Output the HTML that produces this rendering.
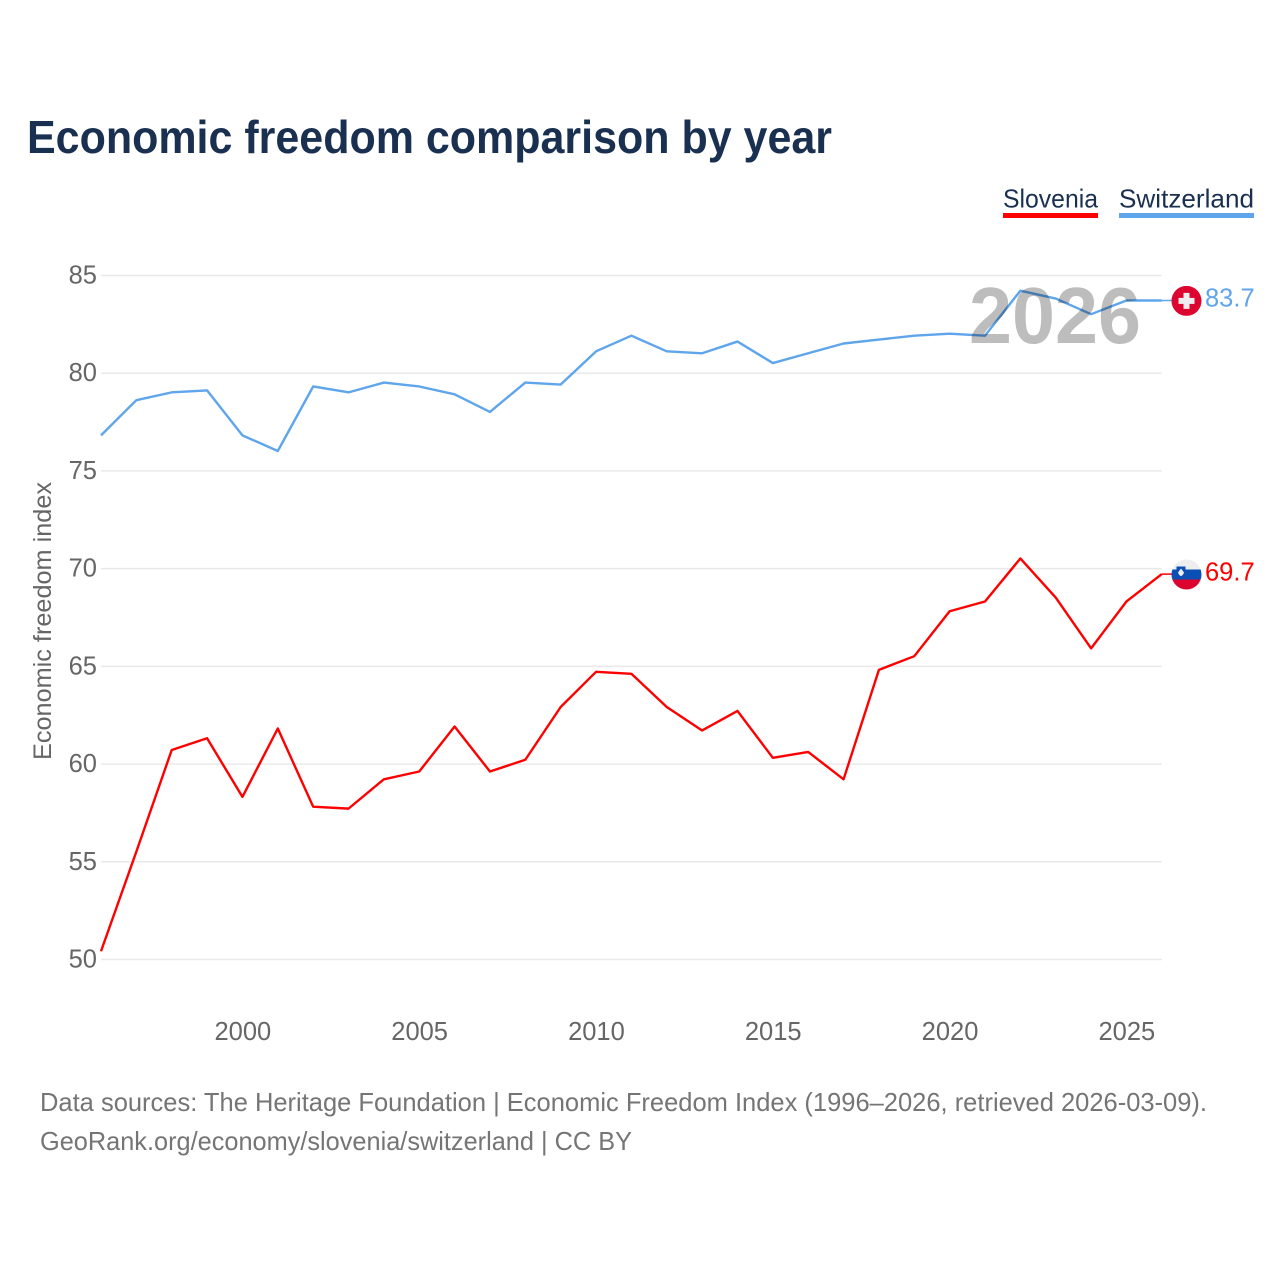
<!DOCTYPE html>
<html lang="en">
<head>
<meta charset="utf-8">
<title>Economic freedom comparison by year</title>
<style>
html,body{margin:0;padding:0;background:#fff}
svg{display:block}
text{font-family:"Liberation Sans",sans-serif}
</style>
</head>
<body>
<svg id="chart" xmlns="http://www.w3.org/2000/svg" width="1280" height="1280" viewBox="0 0 1280 1280">
  <rect x="0" y="0" width="1280" height="1280" fill="#ffffff"/>
  <text x="27" y="153" font-size="46" font-weight="700" fill="#1a3050" textLength="805" lengthAdjust="spacingAndGlyphs">Economic freedom comparison by year</text>

  <g>
    <g>
      <text x="1003" y="207.5" font-size="26" fill="#1a3050" textLength="95" lengthAdjust="spacingAndGlyphs">Slovenia</text>
      <rect x="1003" y="213" width="95" height="5" fill="#ff0000"/>
    </g>
    <g>
      <text x="1119" y="207.5" font-size="26" fill="#1a3050" textLength="135" lengthAdjust="spacingAndGlyphs">Switzerland</text>
      <rect x="1119" y="213" width="135" height="5" fill="#5ea5ec"/>
    </g>
  </g>

  <g id="grid"></g>
  <g id="yticks"></g>
  <g id="xticks"></g>
  <text transform="translate(51,760) rotate(-90)" font-size="25" fill="#666666" textLength="278" lengthAdjust="spacingAndGlyphs">Economic freedom index</text>

  <g id="series" transform="translate(0,-0.4)"></g>

  <text x="969" y="343" font-size="80" font-weight="700" fill="#000000" fill-opacity="0.26" textLength="172" lengthAdjust="spacingAndGlyphs">2026</text>

  <defs>
    <clipPath id="flag-clip"><circle cx="0" cy="0" r="15"/></clipPath>
  </defs>
  <g id="flag-switzerland">
    <g clip-path="url(#flag-clip)">
      <rect x="-15" y="-15" width="30" height="30" fill="#dc0530"/>
      <rect x="-8" y="-3" width="16" height="6" fill="#eeeeee"/>
      <rect x="-3" y="-8" width="6" height="16" fill="#eeeeee"/>
    </g>
  </g>
  <g id="flag-slovenia">
    <g clip-path="url(#flag-clip)">
      <rect x="-15" y="-15" width="30" height="10" fill="#eeeeee"/>
      <rect x="-15" y="-5" width="30" height="10" fill="#0b4fb5"/>
      <rect x="-15" y="5" width="30" height="10" fill="#dc0530"/>
      <path d="M-10,-8 H-1 V-2 Q-1,2 -5.5,3.5 Q-10,2 -10,-2 Z" fill="#0b4fb5"/>
      <path d="M-8.5,-2 L-5.5,-6 L-2.5,-2 Q-3.5,1 -5.5,1.5 Q-7.5,1 -8.5,-2 Z" fill="#eeeeee"/>
    </g>
  </g>
  <g id="values"></g>

  <text x="40" y="1111" font-size="26" fill="#757575" textLength="1167" lengthAdjust="spacingAndGlyphs">Data sources: The Heritage Foundation | Economic Freedom Index (1996–2026, retrieved 2026-03-09).</text>
  <text x="40" y="1150" font-size="26" fill="#757575" textLength="592" lengthAdjust="spacingAndGlyphs">GeoRank.org/economy/slovenia/switzerland | CC BY</text>
</svg>
<script>
const years = [1996,1997,1998,1999,2000,2001,2002,2003,2004,2005,2006,2007,2008,2009,2010,2011,2012,2013,2014,2015,2016,2017,2018,2019,2020,2021,2022,2023,2024,2025,2026];
const slovenia = [50.4,55.5,60.7,61.3,58.3,61.8,57.8,57.7,59.2,59.6,61.9,59.6,60.2,62.9,64.7,64.6,62.9,61.7,62.7,60.3,60.6,59.2,64.8,65.5,67.8,68.3,70.5,68.5,65.9,68.3,69.7];
const switzerland = [76.8,78.6,79.0,79.1,76.8,76.0,79.3,79.0,79.5,79.3,78.9,78.0,79.5,79.4,81.1,81.9,81.1,81.0,81.6,80.5,81.0,81.5,81.7,81.9,82.0,81.9,84.2,83.8,83.0,83.7,83.7];
const yTickValues = [50,55,60,65,70,75,80,85];
const xTickValues = [2000,2005,2010,2015,2020,2025];

const NS = 'http://www.w3.org/2000/svg';
const plotLeft = 101, plotRight = 1161.8, plotTop = 275.5, plotBottom = 959.5;
function xScale(v){ return plotLeft + (v - 1996) * (plotRight - plotLeft) / (2026 - 1996); }
function yScale(v){ return plotBottom - (v - 50) * (plotBottom - plotTop) / (85 - 50); }
function make(tag, parent, attrs, content){
  const el = document.createElementNS(NS, tag);
  for (const k in attrs) el.setAttribute(k, attrs[k]);
  if (content !== undefined) el.textContent = content;
  parent.appendChild(el);
  return el;
}

const gridGroup = document.getElementById('grid');
const yGroup = document.getElementById('yticks');
yTickValues.forEach(function(t){
  const line = make('line', gridGroup, {x1: plotLeft, x2: plotRight, y1: yScale(t), y2: yScale(t), stroke: '#e9e9e9', 'stroke-width': 1.5});
  
  
  const label = make('text', yGroup, {x: 97, y: yScale(t) + 8, 'text-anchor': 'end', 'font-size': 25.5, fill: '#666666'}, String(t));
  
  
});

const xGroup = document.getElementById('xticks');
xTickValues.forEach(function(t){
  const label = make('text', xGroup, {x: xScale(t) + 0.4, y: 1040, 'text-anchor': 'middle', 'font-size': 25.5, fill: '#666666'}, String(t));
  
  
});

function pathFor(values){
  return values.map(function(v, i){ return (i ? 'L' : 'M') + xScale(years[i]).toFixed(2) + ',' + yScale(v).toFixed(2); }).join(' ');
}
const seriesGroup = document.getElementById('series');
const valuesGroup = document.getElementById('values');

const slLine = make('path', seriesGroup, {d: pathFor(slovenia), fill: 'none', stroke: '#ff0000', 'stroke-width': 2.4, 'stroke-linejoin': 'round'});


const swLine = make('path', seriesGroup, {d: pathFor(switzerland), fill: 'none', stroke: '#5ea5ec', 'stroke-width': 2.4, 'stroke-linejoin': 'round'});



const slLast = slovenia[slovenia.length - 1];
const swLast = switzerland[switzerland.length - 1];

const slLead = make('line', seriesGroup, {x1: plotRight, x2: 1172, y1: yScale(slLast), y2: yScale(slLast), stroke: '#ff0000', 'stroke-width': 1.5});


const swLead = make('line', seriesGroup, {x1: plotRight, x2: 1172, y1: yScale(swLast), y2: yScale(swLast), stroke: '#5ea5ec', 'stroke-width': 1.5});



document.getElementById('flag-slovenia').setAttribute('transform', 'translate(1186.5,' + yScale(slLast) + ')');
document.getElementById('flag-switzerland').setAttribute('transform', 'translate(1186.5,' + yScale(swLast) + ')');

const slValue = make('text', valuesGroup, {x: 1205, y: yScale(slLast) + 6, 'font-size': 25.5, fill: '#ff0000'}, slLast.toFixed(1));


const swValue = make('text', valuesGroup, {x: 1205, y: yScale(swLast) + 5.5, 'font-size': 25.5, fill: '#5ea5ec'}, swLast.toFixed(1));


</script>
</body>
</html>
